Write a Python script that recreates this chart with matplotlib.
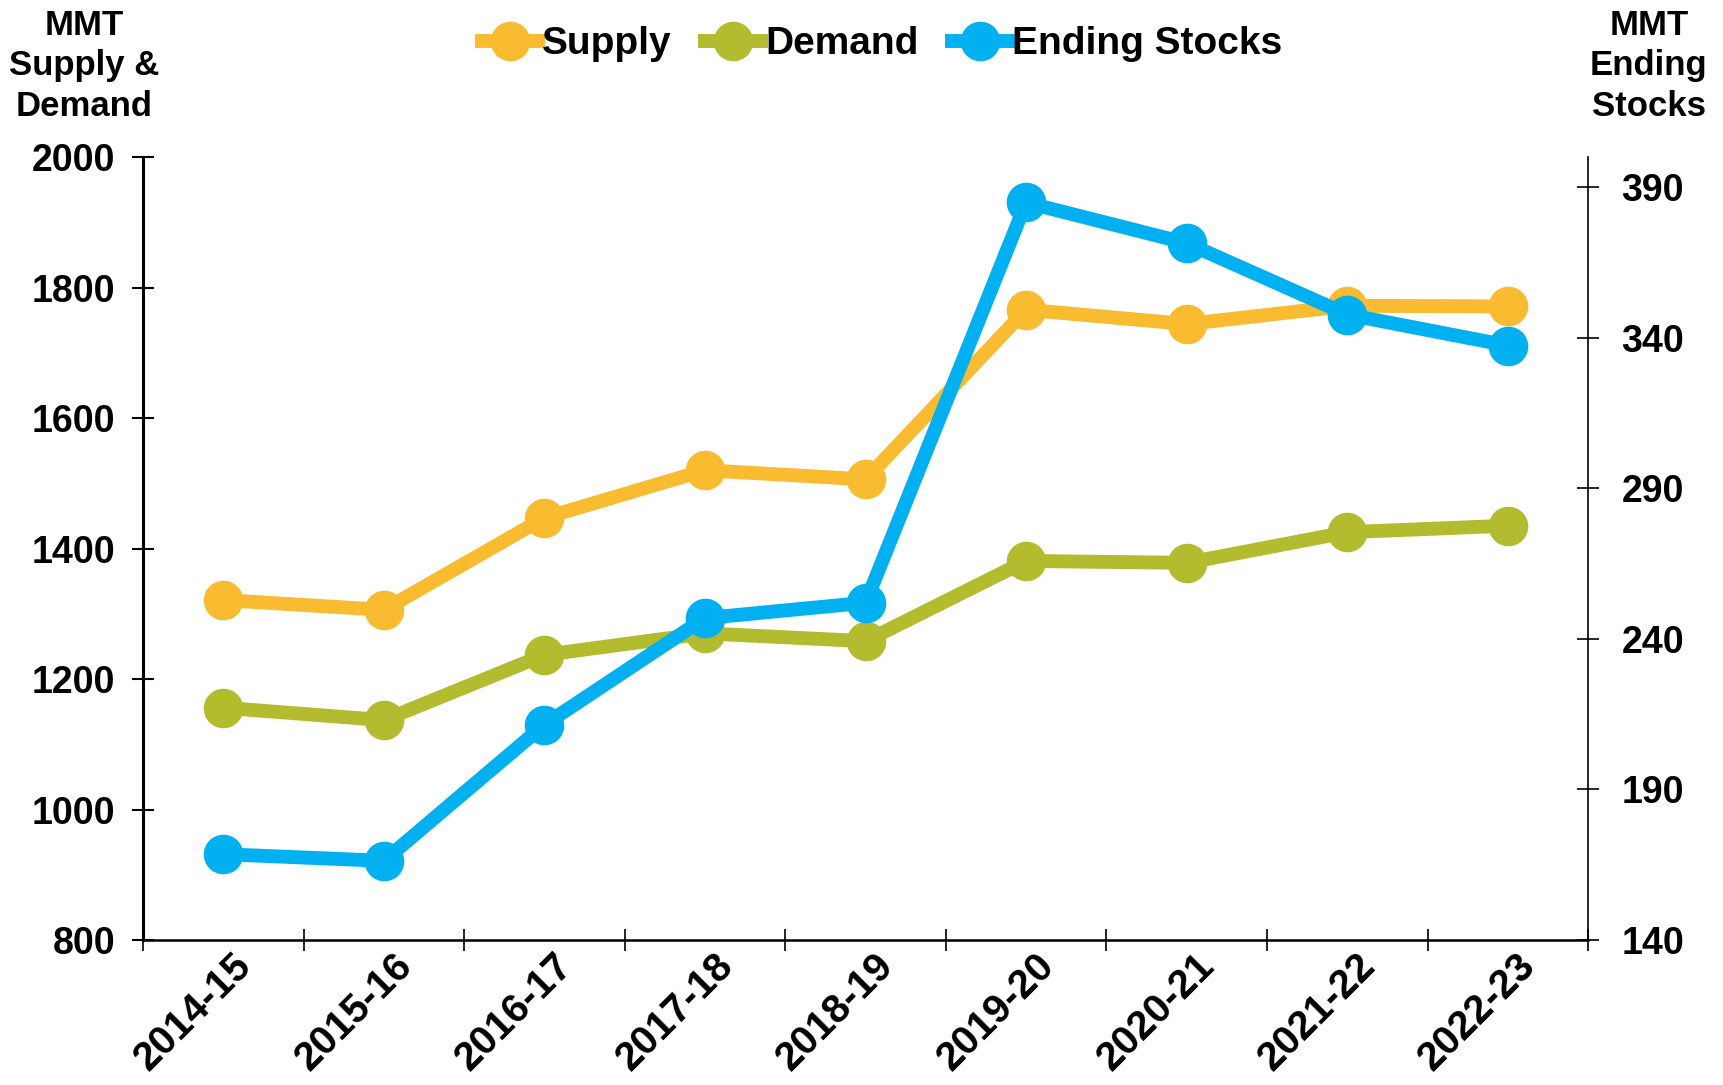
import matplotlib
matplotlib.use("Agg")
import matplotlib.pyplot as plt
from matplotlib.lines import Line2D
from matplotlib.transforms import ScaledTranslation

plt.rcParams['font.family'] = ['Liberation Sans', 'DejaVu Sans']
plt.rcParams['font.weight'] = 'bold'

years = ["2014-15", "2015-16", "2016-17", "2017-18", "2018-19",
         "2019-20", "2020-21", "2021-22", "2022-23"]
supply = [1321, 1306, 1447, 1520, 1506, 1766, 1744, 1772, 1771]
demand = [1156, 1137, 1237, 1270, 1258, 1381, 1378, 1425, 1435]
ending_stocks = [168.5, 166.3, 211.5, 246.9, 252.0, 384.9, 371.4, 347.7, 337.4]

left_ticks = [800, 1000, 1200, 1400, 1600, 1800, 2000]
right_ticks = [140, 190, 240, 290, 340, 390]

c_supply = "#F9BB30"
c_demand = "#B3BC2E"
c_stocks = "#00B0F0"

fig = plt.figure(figsize=(17.23, 10.85), dpi=100)
ax = fig.add_axes([0.083, 0.1336, 0.8387, 0.7217])
ax2 = ax.twinx()

x = list(range(len(years)))
lw = 10
ms = 27.5
ax.plot(x, supply, color=c_supply, lw=lw, marker='o', ms=ms, solid_capstyle='butt', zorder=3)
ax.plot(x, demand, color=c_demand, lw=lw, marker='o', ms=ms, solid_capstyle='butt', zorder=3)
ax2.plot(x, ending_stocks, color=c_stocks, lw=lw, marker='o', ms=ms, solid_capstyle='butt', zorder=3)

ax.set_xlim(-0.5, len(years) - 0.5)
ax.set_ylim(800, 2000)
ax2.set_ylim(140, 400)
ax.set_yticks(left_ticks)
ax2.set_yticks(right_ticks)

ax.set_xticks([i - 0.5 for i in range(len(years) + 1)])
ax.set_xticklabels([])
ax.set_xticks(x, minor=True)
ax.set_xticklabels(years, minor=True, rotation=45, ha='right', va='center',
                   rotation_mode='anchor', fontsize=29, fontweight='bold')
ax.tick_params(axis='x', which='minor', length=0, pad=14)
ax.tick_params(axis='x', which='major', direction='inout', length=16, width=1.2)
offset = ScaledTranslation(0.22, 0, fig.dpi_scale_trans)
for lab in ax.get_xticklabels(minor=True):
    lab.set_transform(lab.get_transform() + offset)

ax.tick_params(axis='y', direction='inout', length=16, width=1.5, labelsize=27, pad=12)
ax2.tick_params(axis='y', direction='inout', length=16, width=1.2, labelsize=27, pad=16)
for lab in ax.get_yticklabels() + ax2.get_yticklabels():
    lab.set_fontweight('bold')

for a in (ax, ax2):
    a.spines['top'].set_visible(False)
ax2.spines['left'].set_visible(False)
ax2.spines['bottom'].set_visible(False)
ax.spines['right'].set_visible(False)
ax.spines['left'].set_linewidth(2.2)
ax.spines['bottom'].set_linewidth(1.8)
ax2.spines['right'].set_linewidth(1.2)

fig.text(0.049, 0.992, "MMT\nSupply &\nDemand", ha='center', va='top',
         fontsize=25, fontweight='bold', linespacing=1.3)
fig.text(0.957, 0.992, "MMT\nEnding\nStocks", ha='center', va='top',
         fontsize=25, fontweight='bold', linespacing=1.3)

handles = [Line2D([], [], color=c, lw=lw, marker='o', ms=ms) for c in (c_supply, c_demand, c_stocks)]
fig.legend(handles, ["Supply", "Demand", "Ending Stocks"], loc='center',
           bbox_to_anchor=(0.512, 0.959), ncol=3, frameon=False,
           prop={'size': 28, 'weight': 'bold'}, handlelength=1.45,
           handletextpad=0.1, columnspacing=0.85)

fig.savefig("out.png", dpi=100)
